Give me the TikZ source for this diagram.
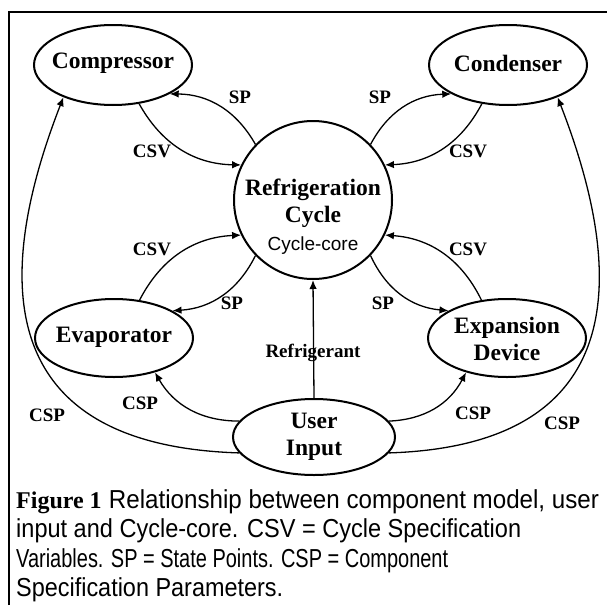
\documentclass[tikz,border=0pt]{standalone}
\usepackage{fontspec}
\setmainfont{Liberation Serif}
\setsansfont{Liberation Sans}
\usetikzlibrary{arrows.meta,shapes.geometric}
\begin{document}
\begin{tikzpicture}[x=1pt,y=-1pt,
  el/.style={ellipse, draw, line width=2pt, inner sep=0pt},
  big/.style={inner sep=0pt, align=center, font=\fontsize{23.5}{27}\selectfont\bfseries},
  sm/.style={inner sep=0pt, font=\fontsize{19}{21}\selectfont\bfseries},
  conn/.style={line width=1.3pt, -{Latex[length=9pt,width=7.5pt]}},
  frame/.style={line width=1.2pt},
  capline/.style={anchor=base west, inner sep=0pt, font=\sffamily\fontsize{26}{28}\selectfont}
]
\useasboundingbox (0,0) rectangle (607,605);
% frame
\coordinate (fb) at (9,605);
\coordinate (ft) at (9,12);
\coordinate (fr) at (607,12);
\draw[frame] (fb) -- (ft) -- (fr);

% nodes
\node[el, minimum width=158pt, minimum height=80pt] (comp) at (113,65) {};
\node[big] (compt) at (113,63) {Compressor};
\node[el, minimum width=158pt, minimum height=80pt] (cond) at (508,65) {};
\node[big] (condt) at (508,63) {Condenser};
\node[el, minimum width=158pt, minimum height=78pt] (evap) at (114,338) {};
\node[big] (evapt) at (114,337) {Evaporator};
\node[el, minimum width=158pt, minimum height=78pt] (exp) at (507,338) {};
\node[big] (expt) at (507,339) {Expansion\\Device};
\node[el, minimum width=162pt, minimum height=76pt] (user) at (314,437) {};
\node[big] (usert) at (314,437) {User\\Input};
\node[circle, draw, line width=2pt, minimum size=158pt, inner sep=0pt] (rc) at (313,200) {};
\node[big] (rct) at (313,217) {Refrigeration\\Cycle\\[1pt]{\sffamily\mdseries\fontsize{19}{20}\selectfont Cycle-core}};

% connectors
\draw[conn] (rc.136) to[bend right=30] (comp.-27);
\draw[conn] (comp.-56) to[bend right=30] (rc.154);
\draw[conn] (rc.44) to[bend left=30] (cond.207);
\draw[conn] (cond.236) to[bend left=30] (rc.26);
\draw[conn] (evap.56) to[bend left=30] (rc.206);
\draw[conn] (rc.224) to[bend left=30] (evap.25);
\draw[conn] (exp.124) to[bend right=30] (rc.-26);
\draw[conn] (rc.-44) to[bend right=30] (exp.155);
\draw[conn] (user.north) -- (rc.south);
\draw[conn] (user.168) to[bend left=30] (evap.-40);
\draw[conn] (user.12) to[bend right=30] (exp.-140);
\draw[conn] (user.192) .. controls (-20,445) and (0,260) .. (comp.213);
\draw[conn] (user.-12) .. controls (641,445) and (621,260) .. (cond.-33);

% labels
\node[sm] (l1) at (240,97) {SP};
\node[sm] (l2) at (152,151) {CSV};
\node[sm] (l3) at (380,97) {SP};
\node[sm] (l4) at (468,151) {CSV};
\node[sm] (l5) at (152,249) {CSV};
\node[sm] (l6) at (232,303) {SP};
\node[sm] (l7) at (468,249) {CSV};
\node[sm] (l8) at (383,303) {SP};
\node[sm] (l9) at (313,353) {Refrigerant};
\node[sm] (l10) at (140,403) {CSP};
\node[sm] (l11) at (47,415) {CSP};
\node[sm] (l12) at (473,413) {CSP};
\node[sm] (l13) at (562,423) {CSP};

% caption
\node[capline] (cap1) at (16,508) {{\rmfamily\bfseries\fontsize{24}{28}\selectfont Figure 1} \resizebox{490pt}{\height}{Relationship between component model, user}};
\node[capline] (cap2) at (16,537) {\resizebox{505pt}{\height}{input and Cycle-core. CSV = Cycle Specification}};
\node[capline] (cap3) at (16,567) {\resizebox{432pt}{\height}{Variables. SP = State Points. CSP = Component}};
\node[capline] (cap4) at (16,596) {\resizebox{267pt}{\height}{Specification Parameters.}};
\end{tikzpicture}
\end{document}
